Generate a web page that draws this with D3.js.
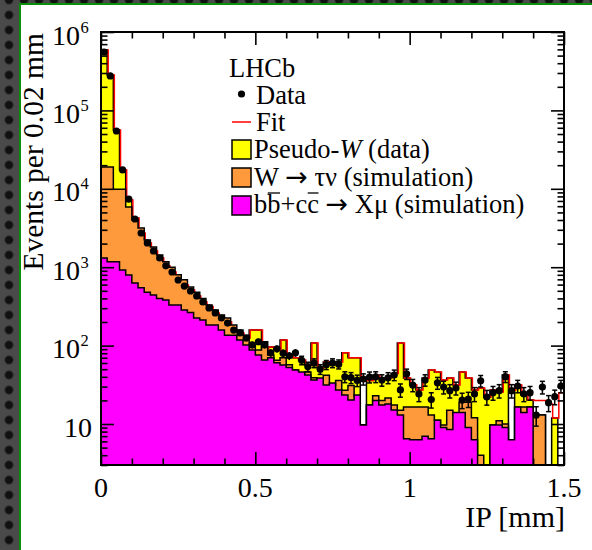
<!DOCTYPE html>
<html><head><meta charset="utf-8">
<script src="https://cdn.jsdelivr.net/npm/d3@7"></script>
<style>html,body{margin:0;padding:0;background:#3c3c3c;}svg{display:block;}</style>
</head><body>
<svg id="c" width="592" height="550"></svg>
<script>
// ---- data (bins of 0.02 mm from 0 to 1.5 mm) ----
const binWidth = 0.02;
const xTickMajor = [0, 0.5, 1, 1.5];
const xTickLabels = ["0", "0.5", "1", "1.5"];
const yDecades = [1, 2, 3, 4, 5, 6];
const dataCounts = [556000,275000,54600,17400,7400,4120,2730,2040,1610,1310,1040,869,687,575,497,429,360,302,261,225,194,158,145,125,102,112,102,81,91,80,74,81,65,54,60,50,57,60,58,40,39,36,37.5,39.7,40,36.4,38.9,42.2,27.2,43.5,31.4,24.2,36.4,20.5,33.5,29.6,26.6,28.8,20.2,20.8,24.2,35.6,22.1,25.1,26.6,40.1,26.6,30.5,24.2,25.1,13,29.6,18.7,22.3,30.5];
const totalStack = [589000,283000,56200,17400,7190,4250,2730,2040,1610,1310,1040,869,687,593,512,429,360,315,261,225,200,158,145,125,158,158,88,96,88,118,76,70,65.5,56.6,108,52,62,60.5,62,81,70,70,9.7,36,42,38,39,44,108,38.6,31.4,27.2,38.6,48.9,46,36.4,38.6,31.4,46,38.6,27.2,28.8,22,27.2,25.6,42.2,6.3,31.4,23.4,20.2,13,13,0,11.9,0];
const wtauStack = [19000,19000,9900,9900,5860,4000,3160,2220,1810,1430,1170,1000,800,690,560,480,400,330,284,245,225,183,158,136,102,88,112,76,65,70,57,49,42,46,39,36,42,31,36,27,31,23,9.7,17.5,23,20,21.5,17.5,15,16.5,16.5,16.5,16.5,13,11.2,9.7,15,13,19,19,12,4,0,9.7,11,10,6.3,16.5,16.5,16.5,13,13,0,0,0];
const bbccStack = [1310,1170,1170,920,796,630,545,480,442,400,382,330,330,284,265,225,212,183,183,158,136,136,118,102,88,76,65.5,70,60.5,56.6,52.5,48.9,46,42.2,36.4,38.6,31.4,33.3,27.2,23.4,20.2,23.4,9.7,17.5,20,17.5,18,15.1,13,6.5,6.3,6.3,7,6.5,11.2,9,8.5,14,14,9,6.3,0,0,9.7,9.7,9,6.3,16.5,14,16.5,0,0,0,0,0];
const fitTotal = [589000,283000,56200,17400,7190,4250,2730,2040,1610,1310,1040,869,687,593,512,429,360,315,261,225,200,158,145,125,158,158,88,96,88,118,76,70,65.5,56.6,108,52,62,60.5,62,81,70,70,38,36,42,38,39,44,108,38.6,31.4,27.2,38.6,48.9,46,36.4,38.6,31.4,46,38.6,27.2,28.8,22,27.2,25.6,42.2,27,31.4,23.4,20.2,20,20,18,11.9,25];

const FONT = '"Liberation Serif"';

// ---- layout ----
const W = 592, H = 550;
const M = {left: 101, right: 564, top: 32, bottom: 465};
const svg = d3.select("#c");

const defs = svg.append("defs");
const pat = defs.append("pattern").attr("id", "dots").attr("patternUnits", "userSpaceOnUse")
  .attr("width", 15).attr("height", 15).attr("x", 1.5).attr("y", -7.5);
pat.append("rect").attr("width", 15).attr("height", 15).attr("fill", "#4a4a4a");
pat.append("circle").attr("cx", 7.5).attr("cy", 7.5).attr("r", 4.2).attr("fill", "#111");
svg.append("rect").attr("width", W).attr("height", H).attr("fill", "url(#dots)");
svg.append("rect").attr("x", 21).attr("y", 5).attr("width", W - 21).attr("height", H - 5).attr("fill", "#fff");
svg.append("path").attr("d", `M20,${H} V4 H${W}`).attr("fill", "none").attr("stroke", "#0a8f0a").attr("stroke-width", 2);

defs.append("clipPath").attr("id", "plotclip").append("rect")
  .attr("x", M.left).attr("y", M.top).attr("width", M.right - M.left).attr("height", M.bottom - M.top);

const x = d3.scaleLinear().domain([0, 1.5]).range([M.left, M.right]);
const y = d3.scaleLog().domain([3, 1e6]).range([M.bottom, M.top]).clamp(true);

function stepPath(vals, closed) {
  let d = "";
  const yb = M.bottom + 2;
  vals.forEach((v, i) => {
    const x0 = x(i * binWidth), x1 = x((i + 1) * binWidth);
    const yy = v > 0 ? y(v) : yb;
    if (i === 0) d += closed ? `M${x0},${yb}V${yy}` : `M${x0},${yy}`;
    else d += `V${yy}`;
    d += `H${x1}`;
  });
  if (closed) d += `V${yb}Z`;
  return d;
}

const g = svg.append("g").attr("clip-path", "url(#plotclip)");
g.append("path").attr("d", stepPath(totalStack, true)).attr("fill", "#ffff00").attr("stroke", "#000").attr("stroke-width", 1.5);
g.append("path").attr("d", stepPath(fitTotal, false)).attr("fill", "none").attr("stroke", "#ff0000").attr("stroke-width", 1.5).attr("transform", "translate(1,0)");
g.append("path").attr("d", stepPath(wtauStack, true)).attr("fill", "#ff9a3c").attr("stroke", "#000").attr("stroke-width", 1.5);
g.append("path").attr("d", stepPath(bbccStack, true)).attr("fill", "#ff00ff").attr("stroke", "#000").attr("stroke-width", 1.5);

const pts = g.append("g");
dataCounts.forEach((v, i) => {
  const cx = x((i + 0.5) * binWidth);
  const e = Math.sqrt(v);
  const y1 = y(v + e), y2 = y(Math.max(v - e, 3));
  pts.append("line").attr("x1", cx).attr("x2", cx).attr("y1", y1).attr("y2", y2).attr("stroke", "#000").attr("stroke-width", 1.5);
  if (y2 - y1 > 8) {
    pts.append("line").attr("x1", cx - 2.5).attr("x2", cx + 2.5).attr("y1", y1).attr("y2", y1).attr("stroke", "#000").attr("stroke-width", 1.5);
    pts.append("line").attr("x1", cx - 2.5).attr("x2", cx + 2.5).attr("y1", y2).attr("y2", y2).attr("stroke", "#000").attr("stroke-width", 1.5);
  }
  pts.append("circle").attr("cx", cx).attr("cy", y(v)).attr("r", 3.6).attr("fill", "#000");
});

const xMinor = d3.range(0, 16).map(i => i / 10).filter(v => !xTickMajor.some(m => Math.abs(m - v) < 1e-9));
const yMajor = yDecades.map(p => Math.pow(10, p));
const yMinor = [];
for (let p = 0; p <= 5; p++) for (let k = 2; k <= 9; k++) { const v = k * Math.pow(10, p); if (v >= 3 && v <= 1e6) yMinor.push(v); }

function styleAxis(sel) { sel.select(".domain").remove(); sel.selectAll("line").attr("stroke", "#000").attr("stroke-width", 1.6); sel.selectAll("text").remove(); }
svg.append("g").attr("transform", `translate(0,${M.bottom})`).call(d3.axisBottom(x).tickValues(xTickMajor).tickSize(-13)).call(styleAxis);
svg.append("g").attr("transform", `translate(0,${M.bottom})`).call(d3.axisBottom(x).tickValues(xMinor).tickSize(-6.5)).call(styleAxis);
svg.append("g").attr("transform", `translate(0,${M.top})`).call(d3.axisTop(x).tickValues(xTickMajor).tickSize(-13)).call(styleAxis);
svg.append("g").attr("transform", `translate(0,${M.top})`).call(d3.axisTop(x).tickValues(xMinor).tickSize(-6.5)).call(styleAxis);
svg.append("g").attr("transform", `translate(${M.left},0)`).call(d3.axisLeft(y).tickValues(yMajor).tickSize(-13)).call(styleAxis);
svg.append("g").attr("transform", `translate(${M.left},0)`).call(d3.axisLeft(y).tickValues(yMinor).tickSize(-6.5)).call(styleAxis);
svg.append("g").attr("transform", `translate(${M.right},0)`).call(d3.axisRight(y).tickValues(yMajor).tickSize(-13)).call(styleAxis);
svg.append("g").attr("transform", `translate(${M.right},0)`).call(d3.axisRight(y).tickValues(yMinor).tickSize(-6.5)).call(styleAxis);
svg.append("rect").attr("x", M.left).attr("y", M.top).attr("width", M.right - M.left).attr("height", M.bottom - M.top)
  .attr("fill", "none").attr("stroke", "#000").attr("stroke-width", 2);

function txt(xp, yp, size) {
  return svg.append("text").attr("x", xp).attr("y", yp).attr("font-size", size).style("font-family", FONT).attr("fill", "#000");
}
xTickMajor.forEach((v, i) => txt(x(v), 497, 28).attr("text-anchor", "middle").text(xTickLabels[i]));
yDecades.forEach(p => {
  const ty = y(Math.pow(10, p)) + 12.5;
  if (p === 1) {
    txt(92, ty, 28).attr("text-anchor", "end").text("10");
  } else {
    txt(80, ty, 28).attr("text-anchor", "end").text("10");
    txt(80.5, ty - 12, 16.5).attr("text-anchor", "start").text(String(p));
  }
});

svg.append("text").attr("transform", "translate(43,33) rotate(-90)").attr("text-anchor", "end")
  .attr("font-size", 29.5).style("font-family", FONT).text("Events per 0.02 mm");
txt(565, 527, 30).attr("text-anchor", "end").text("IP [mm]");

// legend
const LF = 26.5;
txt(229, 77, LF).text("LHCb");
svg.append("circle").attr("cx", 241.5).attr("cy", 94).attr("r", 3.6).attr("fill", "#000");
txt(256, 104, LF).text("Data");
svg.append("line").attr("x1", 232).attr("x2", 251).attr("y1", 122).attr("y2", 122).attr("stroke", "#ff0000").attr("stroke-width", 1.5);
txt(256, 131, LF).text("Fit");
const boxes = [{c: "#ffff00", y: 140}, {c: "#ff9a3c", y: 168}, {c: "#ff00ff", y: 196}];
boxes.forEach(b => svg.append("rect").attr("x", 232).attr("y", b.y).attr("width", 19).attr("height", 19)
  .attr("fill", b.c).attr("stroke", "#000").attr("stroke-width", 1.5));
const t1 = txt(254, 158, LF);
t1.append("tspan").text("Pseudo-");
t1.append("tspan").attr("font-style", "italic").text("W");
t1.append("tspan").text(" (data)");
const t2 = txt(254, 186, LF);
t2.append("tspan").text("W ");
t2.append("tspan").style("font-family", '"DejaVu Sans"').attr("font-size", 27).text("\u2192");
t2.append("tspan").text(" \u03c4\u03bd (simulation)");
const t3 = txt(254, 213, LF);
t3.append("tspan").text("bb+cc ");
t3.append("tspan").style("font-family", '"DejaVu Sans"').attr("font-size", 27).text("\u2192");
t3.append("tspan").text(" X\u03bc (simulation)");
[1, 4].forEach(ci => {
  const n = t3.node();
  const sp = n.getStartPositionOfChar(ci), ep = n.getEndPositionOfChar(ci);
  svg.append("line").attr("x1", sp.x + 0.5).attr("x2", ep.x - 0.5).attr("y1", 213 - 20).attr("y2", 213 - 20)
    .attr("stroke", "#000").attr("stroke-width", 1.3);
});
</script>
</body></html>
